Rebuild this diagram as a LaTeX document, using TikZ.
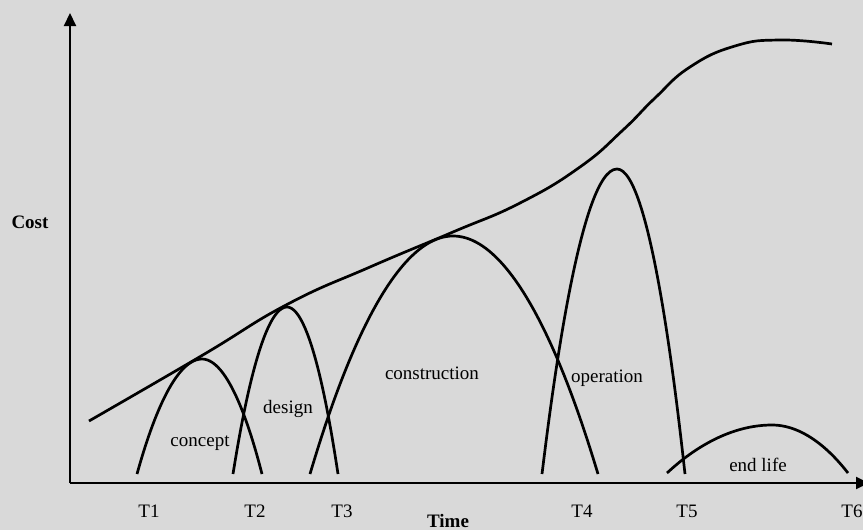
\documentclass[tikz,border=0pt]{standalone}
\usepackage{fontspec}
\setmainfont{Liberation Serif}
\usetikzlibrary{arrows.meta}
\definecolor{paper}{HTML}{D9D9D9}
\begin{document}
\begin{tikzpicture}[x=1pt,y=-1pt,
  axis/.style={line width=2pt,-{Triangle[length=13pt,width=12pt]}},
  curve/.style={line width=2.7pt,line join=round},
  lbl/.style={font=\fontsize{19}{22}\selectfont,inner sep=0pt},
  axlbl/.style={font=\fontsize{19}{22}\selectfont\bfseries,inner sep=0pt}]
  % canvas
  \fill[paper] (0,0) rectangle (863,530);
  \useasboundingbox (0,0) rectangle (863,530);

  % axes
  \coordinate (origin) at (70,483);
  \coordinate (ytop) at (70,13);
  \coordinate (xend) at (869,483);
  \draw[axis] (origin) -- (ytop);
  \draw[axis] (origin) -- (xend);

  % cumulative cost envelope
  \draw[curve] plot[smooth,tension=0.8] coordinates {
    (89,421) (202,355.5) (287,304.5) (370,267) (453,232) (520,203)
    (580,167) (623,130) (655,98) (690,67) (735,46)
    (780,40) (832,44)};

  % phase humps
  \draw[curve] (137,474) parabola bend (202,359) (262,474);
  \draw[curve] (233,474) parabola bend (287,307) (338,474);
  \draw[curve] (310,474) parabola bend (453,236) (598,474);
  \draw[curve] (542,474) parabola bend (617,169) (685,474);
  \draw[curve] (667,473) parabola bend (772,425) (848,473);

  % phase names
  \node[lbl] (concept) at (200,443) {concept};
  \node[lbl] (design) at (288,409) {design};
  \node[lbl] (construction) at (432,373) {construction};
  \node[lbl] (operation) at (607,378) {operation};
  \node[lbl] (endlife) at (758,465) {end life};

  % time marks
  \node[lbl] (t1) at (149,511) {T1};
  \node[lbl] (t2) at (255,511) {T2};
  \node[lbl] (t3) at (342,511) {T3};
  \node[lbl] (t4) at (582,511) {T4};
  \node[lbl] (t5) at (687,511) {T5};
  \node[lbl] (t6) at (852,511) {T6};

  % axis titles
  \node[axlbl] (time) at (448,521) {Time};
  \node[axlbl] (cost) at (30,222) {Cost};
\end{tikzpicture}
\end{document}
